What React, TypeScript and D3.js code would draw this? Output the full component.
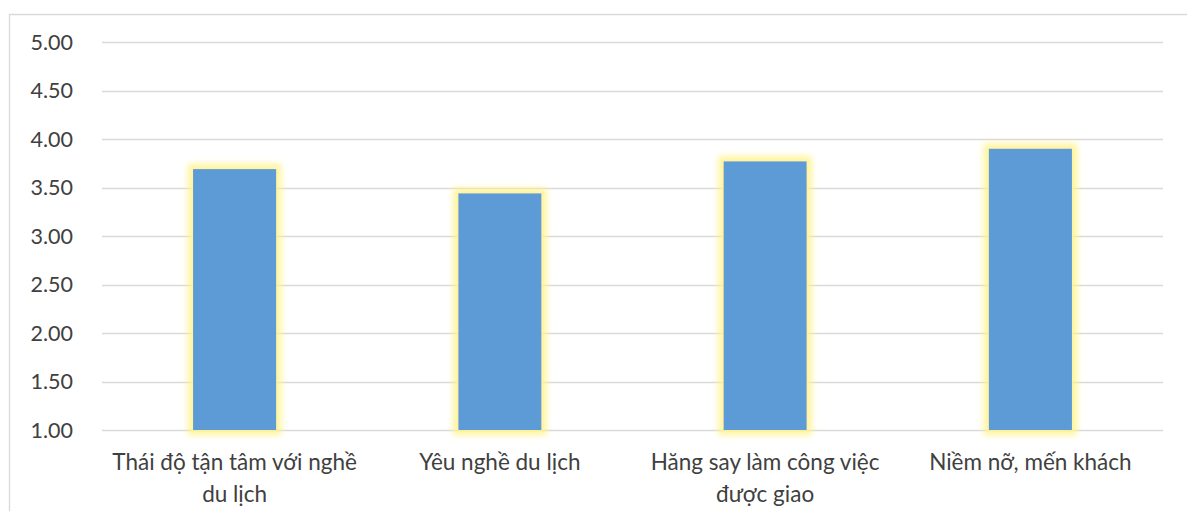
import React from "react";
import * as d3 from "d3";

// Mean scores per attitude criterion (scale 1–5)
const categories: string[][] = [
  ["Thái độ tận tâm với nghề", "du lịch"],
  ["Yêu nghề du lịch"],
  ["Hăng say làm công việc", "được giao"],
  ["Niềm nỡ, mến khách"],
];
const scores: number[] = [3.69, 3.44, 3.77, 3.9];
const yTicks: number[] = [1, 1.5, 2, 2.5, 3, 3.5, 4, 4.5, 5];

const W = 1187;
const H = 511;
const plot = { left: 102, right: 1163, top: 42, bottom: 430 };
const FONT = "Lato, 'Open Sans', sans-serif";
const TEXT = "#404040";
const GRID = "#D9D9D9";

export default function App() {
  const x = d3
    .scaleBand<number>()
    .domain(categories.map((_, i) => i))
    .range([plot.left, plot.right])
    .paddingInner(0)
    .paddingOuter(0);
  const y = d3.scaleLinear().domain([1, 5]).range([plot.bottom, plot.top]);
  const barW = x.bandwidth() / 3.19;

  return (
    <div style={{ position: "fixed", left: 0, top: 0, width: W, height: H, background: "#fff" }}>
      <svg width={W} height={H} style={{ display: "block" }}>
        <defs>
          <filter id="glow" x="-30%" y="-30%" width="160%" height="160%">
            <feMorphology in="SourceAlpha" operator="dilate" radius="4.5" result="thick" />
            <feGaussianBlur in="thick" stdDeviation="3" result="blur" />
            <feFlood floodColor="#FFF38C" floodOpacity="0.9" />
            <feComposite in2="blur" operator="in" result="halo" />
            <feMerge>
              <feMergeNode in="halo" />
              <feMergeNode in="SourceGraphic" />
            </feMerge>
          </filter>
        </defs>

        {/* chart area frame */}
        <path d={`M9.5,${H} V14.5 H${W}`} fill="none" stroke={GRID} strokeWidth={1.3} />

        {/* gridlines and y labels */}
        {yTicks.map((t) => (
          <g key={t}>
            <line
              x1={plot.left}
              x2={plot.right}
              y1={Math.round(y(t)) + 0.5}
              y2={Math.round(y(t)) + 0.5}
              stroke={GRID}
              strokeWidth={1.5}
            />
            <text
              x={73}
              y={y(t)}
              dy="0.36em"
              textAnchor="end"
              fontFamily={FONT}
              fontSize={21.5}
              fill={TEXT}
            >
              {t.toFixed(2)}
            </text>
          </g>
        ))}

        {/* bars */}
        {scores.map((v, i) => {
          const cx = (x(i) as number) + x.bandwidth() / 2;
          return (
            <rect
              key={i}
              x={cx - barW / 2}
              y={y(v)}
              width={barW}
              height={y(1) - y(v)}
              fill="#5B9BD5"
              filter="url(#glow)"
            />
          );
        })}

        {/* category labels */}
        {categories.map((lines, i) => {
          const cx = (x(i) as number) + x.bandwidth() / 2;
          return (
            <text key={i} textAnchor="middle" fontFamily={FONT} fontSize={22.5} fill={TEXT}>
              {lines.map((ln, j) => (
                <tspan key={j} x={cx} y={470 + j * 31.5}>
                  {ln}
                </tspan>
              ))}
            </text>
          );
        })}
      </svg>
    </div>
  );
}
